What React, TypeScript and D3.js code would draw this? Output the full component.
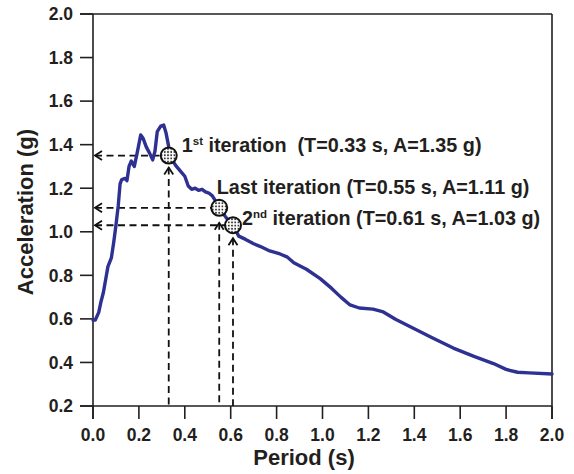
import React from "react";
import * as d3 from "d3";

const periods = [0.0, 0.01, 0.025, 0.035, 0.045, 0.055, 0.065, 0.08, 0.09, 0.1, 0.11, 0.118, 0.125, 0.14, 0.148, 0.157, 0.167, 0.18, 0.192, 0.208, 0.218, 0.232, 0.247, 0.26, 0.27, 0.28, 0.295, 0.308, 0.318, 0.33, 0.345, 0.36, 0.38, 0.4, 0.415, 0.43, 0.445, 0.46, 0.475, 0.49, 0.505, 0.52, 0.535, 0.55, 0.58, 0.61, 0.635, 0.665, 0.7, 0.73, 0.77, 0.815, 0.845, 0.875, 0.93, 0.99, 1.04, 1.08, 1.12, 1.16, 1.22, 1.265, 1.32, 1.4, 1.48, 1.57, 1.66, 1.745, 1.8, 1.85, 1.9, 2.0];
const accels = [0.595, 0.595, 0.63, 0.68, 0.72, 0.78, 0.84, 0.88, 0.95, 1.03, 1.12, 1.22, 1.24, 1.245, 1.235, 1.3, 1.325, 1.3, 1.36, 1.445, 1.43, 1.39, 1.36, 1.33, 1.37, 1.46, 1.485, 1.49, 1.455, 1.39, 1.33, 1.305, 1.28, 1.255, 1.21, 1.195, 1.2, 1.19, 1.195, 1.183, 1.178, 1.165, 1.14, 1.11, 1.065, 1.03, 0.98, 0.965, 0.945, 0.932, 0.912, 0.898, 0.885, 0.858, 0.828, 0.785, 0.74, 0.7, 0.664, 0.65, 0.645, 0.632, 0.597, 0.555, 0.512, 0.466, 0.428, 0.395, 0.368, 0.355, 0.352, 0.347];

const xTicks = [0, 0.2, 0.4, 0.6, 0.8, 1.0, 1.2, 1.4, 1.6, 1.8, 2.0];
const yTicks = [0.2, 0.4, 0.6, 0.8, 1.0, 1.2, 1.4, 1.6, 1.8, 2.0];

const iterT = [0.33, 0.55, 0.61];
const iterA = [1.35, 1.11, 1.03];
const iterNum = ["1", "Last", "2"];
const iterSup = ["st", "", "nd"];
const iterRest = [" iteration  (T=0.33 s, A=1.35 g)", " iteration (T=0.55 s, A=1.11 g)", " iteration (T=0.61 s, A=1.03 g)"];

const xLabel = "Period (s)";
const yLabel = "Acceleration (g)";

const W = 574, H = 474;
const left = 93, right = 552, top = 14, bottom = 406;
const ink = "#231f20";
const FONT = "'Liberation Sans', Arial, Helvetica, sans-serif";

// per-label placement offsets relative to the marker
const labelDx = [13, -2.5, 9];
const labelDy = [-4, -14, 0];
const vGap = [4, 7, 5];

export default function App() {
  const x = d3.scaleLinear().domain([0, 2]).range([left, right]);
  const y = d3.scaleLinear().domain([0.2, 2.0]).range([bottom, top]);
  const data = periods.map((p, i) => [p, accels[i]] as [number, number]);
  const line = d3.line<[number, number]>().x(d => x(d[0])).y(d => y(d[1])).curve(d3.curveLinear);
  const r = 8;

  return (
    <svg width={W} height={H} style={{ position: "absolute", left: 0, top: 0, background: "#fff" }} fontFamily={FONT}>
      <defs>
        <pattern id="dots" width={3.2} height={3.2} patternUnits="userSpaceOnUse">
          <rect width={3.2} height={3.2} fill="#fff" />
          <circle cx={1.6} cy={1.6} r={0.95} fill="#333" />
        </pattern>
      </defs>
      <rect x={0} y={0} width={W} height={H} fill="#fff" />

      {/* frame */}
      <line x1={left - 13} x2={right} y1={top} y2={top} stroke={ink} strokeWidth={1.6} />
      <line x1={right} x2={right} y1={top} y2={bottom + 13} stroke={ink} strokeWidth={1.6} />
      <line x1={left - 13} x2={right} y1={bottom} y2={bottom} stroke={ink} strokeWidth={1.6} />
      <line x1={left} x2={left} y1={top} y2={bottom + 13} stroke={ink} strokeWidth={1.6} />

      {/* y ticks */}
      {yTicks.map(t => (
        <g key={"y" + t}>
          <line x1={left - 13} x2={left} y1={y(t)} y2={y(t)} stroke={ink} strokeWidth={1.6} />
          <text x={73} y={y(t)} dy="0.36em" textAnchor="end" fontSize={17.5} fontWeight="bold" fill={ink}>{t.toFixed(1)}</text>
        </g>
      ))}
      {/* x ticks */}
      {xTicks.map(t => (
        <g key={"x" + t}>
          <line x1={x(t)} x2={x(t)} y1={bottom} y2={bottom + 13} stroke={ink} strokeWidth={1.6} />
          <text x={x(t)} y={441} textAnchor="middle" fontSize={17.5} fontWeight="bold" fill={ink}>{t.toFixed(1)}</text>
        </g>
      ))}

      <text x={304} y={465} textAnchor="middle" fontSize={22} fontWeight="bold" fill={ink}>{xLabel}</text>
      <text transform={`translate(33,${(top + bottom) / 2 + 2}) rotate(-90)`} textAnchor="middle" fontSize={22} fontWeight="bold" fill={ink}>{yLabel}</text>

      {/* dashed guides */}
      {iterT.map((t, i) => {
        const cx = x(t), cy = y(iterA[i]);
        const ax = left + 2;
        const tipY = cy + r + vGap[i];
        return (
          <g key={"g" + i} stroke="#111" strokeWidth={1.8} fill="none">
            <line x1={ax} x2={cx - r} y1={cy} y2={cy} strokeDasharray="7 4.5" />
            <polyline points={`${ax + 7},${cy - 4.5} ${ax},${cy} ${ax + 7},${cy + 4.5}`} />
            <line x1={cx} x2={cx} y1={tipY} y2={bottom} strokeDasharray="7 4.5" />
            <polyline points={`${cx - 4.5},${tipY + 7} ${cx},${tipY} ${cx + 4.5},${tipY + 7}`} />
          </g>
        );
      })}

      <path d={line(data) || ""} fill="none" stroke="#2e3192" strokeWidth={3.4} strokeLinejoin="round" strokeLinecap="round" />

      {iterT.map((t, i) => (
        <circle key={"c" + i} cx={x(t)} cy={y(iterA[i])} r={r} fill="url(#dots)" stroke="#111" strokeWidth={2} />
      ))}

      {iterT.map((t, i) => (
        <text key={"l" + i} x={x(t) + labelDx[i]} y={y(iterA[i]) + labelDy[i]} fontSize={19.8} fontWeight="bold" fill={ink} style={{ whiteSpace: "pre" }}>
          {iterNum[i]}
          {iterSup[i] ? <tspan fontSize={11.5} dy={-7}>{iterSup[i]}</tspan> : null}
          <tspan dy={iterSup[i] ? 7 : 0}>{iterRest[i]}</tspan>
        </text>
      ))}
    </svg>
  );
}
